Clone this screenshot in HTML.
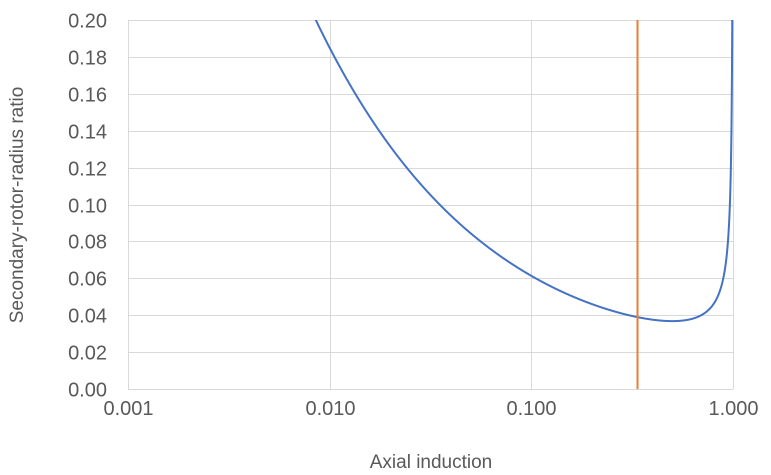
<!DOCTYPE html>
<html><head><meta charset="utf-8"><style>
body{margin:0;background:#fff;}
svg{display:block;font-family:"Liberation Sans",Arial,sans-serif;}
</style></head><body>
<svg id="s" width="771" height="475" viewBox="0 0 771 475">
<defs><clipPath id="cp"><rect x="100" y="20" width="660" height="380"/></clipPath></defs>
<g id="grid" stroke="#d9d9d9" stroke-width="1"></g>
<g id="lab" fill="#595959" font-size="20"></g>
<path id="blue" fill="none" stroke="#4472C4" stroke-width="2" clip-path="url(#cp)"/>
<line x1="637.5" y1="20" x2="637.5" y2="389" stroke="#ED7D31" stroke-width="2"/>
<text x="431" y="468" font-size="19" fill="#595959" text-anchor="middle">Axial induction</text>
<text transform="translate(23,205) rotate(-90)" font-size="19" fill="#595959" text-anchor="middle">Secondary-rotor-radius ratio</text>
</svg>
<script>
var L=128,R=733,T=20,B=389,ns="http://www.w3.org/2000/svg";
function X(a){return L+(Math.log10(a)+3)/3*(R-L);}
function Y(v){return B-v/0.2*(B-T);}
var g=document.getElementById('grid'),lb=document.getElementById('lab');
function el(p,t,at){var e=document.createElementNS(ns,t);for(var k in at)e.setAttribute(k,at[k]);p.appendChild(e);return e;}
for(var i=0;i<=10;i++){var y=Math.round(Y(i*0.02))+0.5;el(g,'line',{x1:L,x2:R,y1:y,y2:y});
var t=el(lb,'text',{x:107,y:y+7,'text-anchor':'end'});t.textContent=(i*0.02).toFixed(2);}
var xl=['0.001','0.010','0.100','1.000'];
for(var j=0;j<4;j++){var x=Math.round(L+j*(R-L)/3)+0.5;el(g,'line',{x1:x,x2:x,y1:T,y2:B});
var t=el(lb,'text',{x:x,y:415,'text-anchor':'middle'});t.textContent=xl[j];}
var d='',c=0.0184;
for(var k=0;k<=3000;k++){var lg=-2.1+k*(2.1)/3000;var a=Math.pow(10,lg);if(a>=0.999999)a=0.999999;
var v=c/Math.sqrt(a*(1-a));if(v>0.22)v=0.22;d+=(d?'L':'M')+X(a).toFixed(2)+' '+Y(v).toFixed(2);}
document.getElementById('blue').setAttribute('d',d);
</script>
</body></html>
